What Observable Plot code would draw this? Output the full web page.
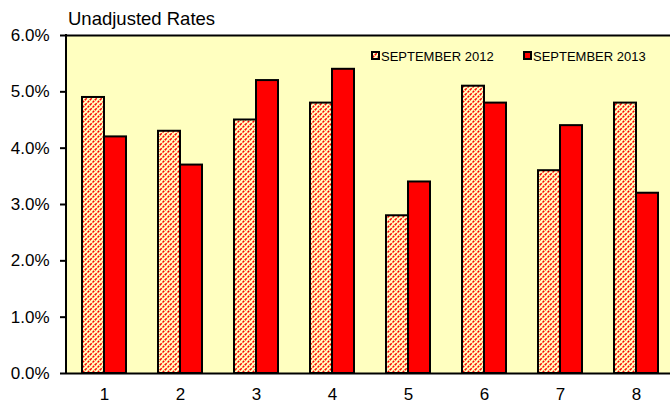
<!DOCTYPE html>
<html>
<head>
<meta charset="utf-8">
<script src="https://cdn.jsdelivr.net/npm/d3@7"></script>
<script src="https://cdn.jsdelivr.net/npm/@observablehq/plot@0.6"></script>
<style>
  html, body { margin: 0; padding: 0; background: white; overflow: hidden; }
  #chart { position: relative; width: 670px; height: 403px; overflow: hidden; }
</style>
</head>
<body>
<div id="chart"></div>
<script>
const categories = ["1", "2", "3", "4", "5", "6", "7", "8"];
const sep2012 = [4.9, 4.3, 4.5, 4.8, 2.8, 5.1, 3.6, 4.8];
const sep2013 = [4.2, 3.7, 5.2, 5.4, 3.4, 4.8, 4.4, 3.2];
const yTicks = [0, 1, 2, 3, 4, 5, 6];
const seriesNames = ["SEPTEMBER 2012", "SEPTEMBER 2013"];
const titleText = "Unadjusted Rates";

const data2012 = categories.map((c, i) => ({cat: c, value: sep2012[i]}));
const data2013 = categories.map((c, i) => ({cat: c, value: sep2013[i]}));

const FONT = "'Liberation Sans', Arial, sans-serif";

const plot = Plot.plot({
  width: 670,
  height: 403,
  marginLeft: 66,
  marginRight: 0,
  marginTop: 35,
  marginBottom: 30,
  style: {fontFamily: FONT, fontSize: "17px", color: "#000", background: "white"},
  x: {domain: categories, range: [66, 674], padding: 0, label: null},
  y: {domain: [0, 6], label: null},
  marks: [
    Plot.frame({fill: "#ffffc0", stroke: "none"}),
    Plot.barY(data2012, {x: "cat", y: "value", fill: "url(#hatch)", stroke: "#000", strokeWidth: 2, insetLeft: 16, insetRight: 38}),
    Plot.barY(data2013, {x: "cat", y: "value", fill: "#ff0000", stroke: "#000", strokeWidth: 2, insetLeft: 38, insetRight: 16}),
    Plot.ruleY([yTicks[0], yTicks[yTicks.length - 1]], {stroke: "#000", strokeWidth: 2, x1: null, x2: null}),
    Plot.axisY({ticks: yTicks, tickFormat: d => d.toFixed(1) + "%", tickSize: 6, tickPadding: 11, strokeWidth: 2, fontSize: 17, label: null}),
    Plot.axisX({tickSize: 0, tickPadding: 14, fontSize: 17, label: null})
  ]
});

// hatch pattern definition
const svg = d3.select(plot);
const defs = svg.insert("defs", ":first-child");
const P = 5;
const pat = defs.append("pattern")
  .attr("id", "hatch")
  .attr("patternUnits", "userSpaceOnUse")
  .attr("width", P).attr("height", P);
pat.append("rect").attr("width", P).attr("height", P).attr("fill", "#ffffc0");
pat.append("path")
  .attr("d", `M-1,1 L1,-1 M0,${P} L${P},0 M${P - 1},${P + 1} L${P + 1},${P - 1}`)
  .attr("stroke", "#ff0000")
  .attr("stroke-width", 1.5)
  .attr("stroke-dasharray", "2.4,1.2");

// left axis line along the y scale's range
const yScale = plot.scale("y");
svg.append("line")
  .attr("x1", 66).attr("x2", 66)
  .attr("y1", yScale.apply(yTicks[0]) + 1).attr("y2", yScale.apply(yTicks[yTicks.length - 1]) - 1)
  .attr("stroke", "#000").attr("stroke-width", 2);

// title
svg.append("text")
  .attr("x", 68).attr("y", 25)
  .attr("text-anchor", "start")
  .attr("font-family", FONT).attr("font-size", 18.5).attr("fill", "#000")
  .text(titleText);

// legend
const legendItems = [
  {name: seriesNames[0], fill: "url(#hatch)", x: 371},
  {name: seriesNames[1], fill: "#ff0000", x: 523}
];
const lg = svg.append("g").attr("text-anchor", "start");
legendItems.forEach(it => {
  lg.append("rect").attr("x", it.x + 1).attr("y", 52).attr("width", 7).attr("height", 7)
    .attr("fill", it.fill).attr("stroke", "#000").attr("stroke-width", 2);
  lg.append("text").attr("x", it.x + 10).attr("y", 60.5)
    .attr("font-family", FONT).attr("font-size", 13).attr("fill", "#000")
    .text(it.name);
});

document.getElementById("chart").appendChild(plot);
</script>
</body>
</html>
